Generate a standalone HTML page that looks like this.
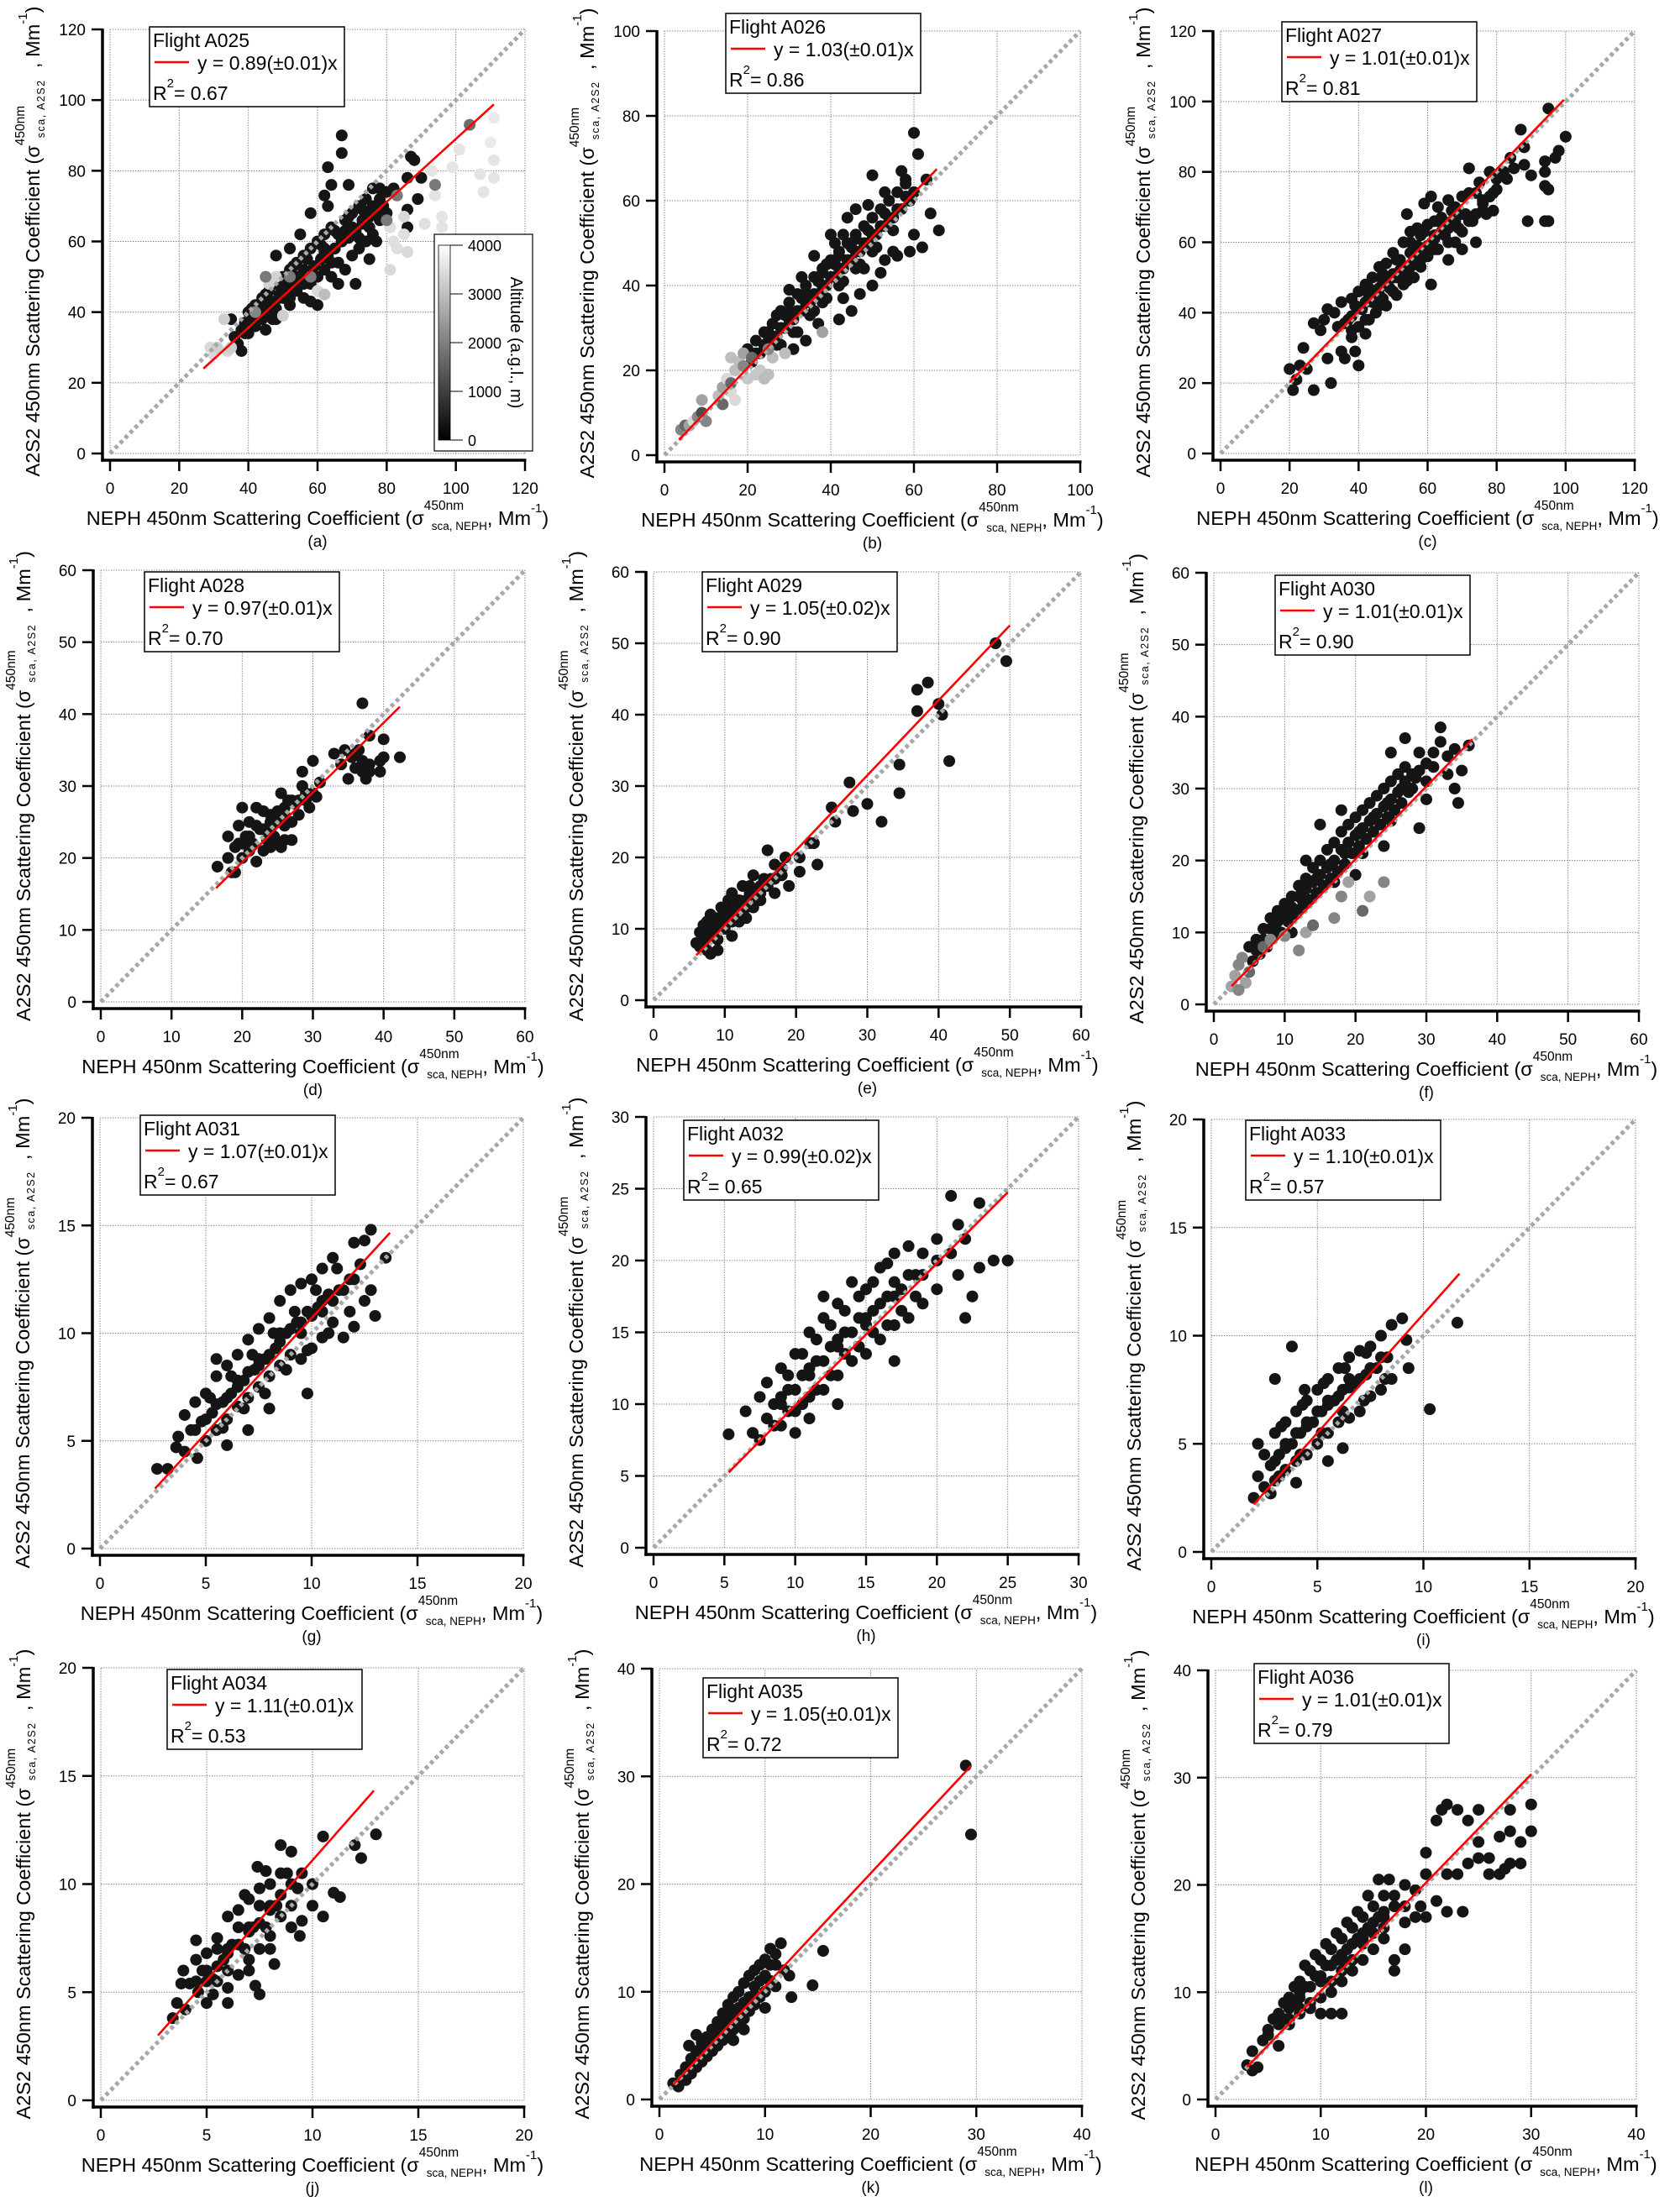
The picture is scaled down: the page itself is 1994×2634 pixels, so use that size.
<!DOCTYPE html>
<html><head><meta charset="utf-8">
<style>
html,body{margin:0;padding:0;background:#fff;}
svg{display:block;font-family:"Liberation Sans",Arial,sans-serif;}
</style></head>
<body>
<svg id="fig" width="1994" height="2634" viewBox="0 0 1994 2634" xmlns="http://www.w3.org/2000/svg"></svg>
<script>
// ---------- DATA ----------
const aPts=[[35,38],[36,33],[37,31],[38,35],[39,37],[40,40],[40,34],[41,38],[42,42],[42,36],[43,39],[44,44],[44,38],[45,41],[46,46],[46,40],[47,43],[48,48],[48,38],[49,45],[50,50],[50,44],[51,47],[52,52],[52,42],[53,48],[54,54],[54,46],[55,50],[56,56],[56,44],[57,51],[58,58],[58,48],[59,53],[60,60],[60,50],[61,55],[62,62],[62,52],[63,57],[64,64],[64,50],[65,58],[66,62],[66,54],[67,60],[68,66],[68,52],[69,62],[70,68],[70,56],[71,63],[72,70],[72,58],[73,66],[74,72],[74,60],[75,64],[76,70],[76,62],[78,72],[78,66],[80,74],[80,68],[67,90],[67,85],[63,81],[64,76],[69,76],[62,73],[63,70],[58,68],[55,62],[52,58],[48,56],[87,84],[88,83],[86,78],[90,78],[89,72],[82,75],[86,69],[86,64],[77,60],[75,55],[71,48],[66,48],[58,43],[60,42],[52,44],[47,38],[45,35],[38,29],[78,75],[76,75],[44,41],[50,47],[56,52],[62,58],[68,63],[74,68]];
const aCore=[[39,34],[41,36],[43,38],[45,40],[47,42],[49,44],[51,46],[53,48],[55,49],[57,51],[59,53],[61,55],[63,56],[65,58],[67,60],[69,61],[71,63],[73,65],[75,67],[77,68],[79,70],[41,41],[45,45],[49,49],[53,53],[57,55],[61,59],[65,63],[69,67],[73,69],[40,37],[48,41],[56,48],[64,54],[72,61],[46,43],[54,50],[62,57],[70,64],[78,69]];
const aGray=[[29,30,3500],[30,28,3500],[31,30,3300],[34,29,3400],[35,30,3300],[33,38,3300],[46,48,3400],[48,50,3400],[50,39,3300],[60,46,3500],[62,45,3000],[81,64,3600],[82,60,3600],[83,58,3600],[85,62,3600],[91,65,3600],[93,80,3700],[94,73,3700],[96,67,3700],[96,64,3700],[99,81,3700],[101,86,3700],[104,93,1600],[111,95,3800],[110,88,3800],[111,83,3700],[111,78,3700],[107,79,3700],[108,74,3700],[81,52,3500],[86,57,3500],[85,67,3500],[94,76,1800],[83,73,1800],[80,66,1800],[52,50,1800],[42,40,2000],[45,50,1800],[58,50,1800]];
const bPts=[[20,25],[21,22],[22,27],[23,24],[24,29],[25,27],[26,31],[27,28],[28,34],[29,30],[30,36],[31,32],[32,38],[33,34],[34,40],[35,36],[36,42],[37,38],[38,44],[39,40],[40,46],[41,42],[42,48],[43,44],[44,50],[45,46],[46,52],[47,48],[48,54],[49,50],[50,56],[51,52],[52,58],[53,54],[54,60],[55,56],[56,62],[57,58],[58,64],[59,60],[60,76],[61,71],[63,65],[64,57],[66,53],[60,52],[62,49],[59,48],[56,47],[53,46],[52,43],[50,40],[47,38],[45,34],[42,32],[38,40],[35,33],[32,29],[28,26],[27,33],[30,39],[33,42],[36,47],[40,52],[44,56],[46,58],[49,59],[50,66],[53,62],[57,67],[58,65],[55,48],[48,44],[43,37],[37,31],[34,27],[31,25],[36,34],[41,50],[44,46],[39,45],[43,52]];
const bCore=[[22,24],[24,26],[26,28],[28,30],[30,32],[32,34],[34,36],[36,38],[38,40],[40,42],[42,44],[44,46],[46,48],[48,50],[50,52],[52,54],[54,56],[56,58],[25,29],[29,33],[33,37],[37,41],[41,45],[45,49],[49,53],[53,57],[27,26],[31,29],[35,33],[39,37],[43,41],[47,45],[51,49],[55,53],[38,36],[42,40],[46,44],[50,48],[30,34],[34,38],[38,43],[42,47],[46,51],[58,61],[60,62]];
const bGray=[[4,6,2000],[5,7,1500],[6,7,2500],[7,8,3500],[8,9,2000],[9,10,1000],[9,13,2500],[10,8,2000],[13,14,3000],[14,12,1500],[14,16,2500],[15,18,3500],[16,15,3500],[17,20,3000],[17,13,3500],[18,22,3000],[19,24,2500],[20,18,3200],[22,19,3200],[23,20,3200],[24,18,3000],[25,19,3000],[19,21,2000],[21,23,1500],[26,23,3000],[29,24,3000],[38,29,2500],[25,25,2000],[16,23,3000],[16,17,1500]];
const cPts=[[20,24],[21,18],[22,21],[23,25],[24,30],[25,24],[27,18],[27,37],[29,35],[30,38],[31,27],[31,41],[32,20],[33,40],[34,36],[35,29],[35,43],[36,27],[37,38],[38,44],[38,33],[39,29],[40,25],[40,46],[40,36],[41,41],[42,48],[42,34],[43,38],[44,50],[44,43],[45,40],[46,53],[46,45],[47,49],[48,54],[48,42],[49,47],[50,57],[50,51],[51,45],[52,55],[53,60],[53,48],[54,68],[54,52],[55,63],[55,57],[56,50],[57,59],[58,62],[58,53],[59,71],[60,65],[60,56],[61,73],[61,48],[62,62],[63,70],[63,58],[64,67],[65,62],[66,72],[66,55],[67,66],[68,70],[68,60],[69,64],[70,73],[70,58],[71,68],[72,81],[72,74],[73,66],[74,60],[75,77],[76,69],[77,68],[78,80],[79,74],[79,69],[80,78],[82,80],[83,78],[85,81],[87,92],[88,87],[88,82],[89,66],[90,79],[94,83],[94,80],[94,76],[95,75],[95,98],[94,66],[95,66],[97,84],[98,86],[100,90],[84,84],[76,72],[74,74],[65,65],[57,64],[52,52],[45,46],[43,45],[47,44],[51,50],[55,53],[59,58],[62,66],[66,64]];
const cCore=[[36,37],[38,39],[40,41],[42,43],[44,45],[46,47],[48,49],[50,50],[52,51],[54,53],[56,55],[58,57],[60,59],[62,61],[64,63],[66,65],[68,66],[70,68],[39,42],[43,47],[47,51],[51,55],[55,60],[59,63],[63,66],[67,69],[38,35],[42,38],[46,42],[50,46],[54,49],[58,55],[62,58],[66,60],[70,63],[72,66],[74,68],[76,71],[78,73],[80,75]];
const dPts=[[16.5,18.8],[18,23],[18,20],[18.5,18],[19,21.5],[19,18],[19.5,24.5],[20,27],[20,20],[20.5,23],[21,25],[21,21],[21.5,22],[22,27],[22,19.5],[22.5,24],[23,26.5],[23,21],[23.5,22.5],[24,26],[24,24],[24.5,23],[25,25],[25,22],[25.5,29],[25.5,21.5],[26,27],[26,24.5],[26.5,28],[27,25],[27,22.5],[27.5,27.5],[28,26],[28.5,32],[28.5,30],[29,28],[29.5,27],[30,33.5],[30,29],[30.5,28.5],[31,30.5],[33,34.5],[34,33],[34.5,35],[35,31],[35.5,34],[36,32.5],[36.5,35],[37,41.5],[37,33.5],[37.5,31],[38,33],[38,37],[38,32],[39.5,33.5],[39.5,32],[40,36.5],[40,34],[42.3,34]];
const dCore=[[21,23],[23,24],[24,25],[26,26],[27,28],[28,28],[29,29],[22,24.5],[25,26.5],[19.5,22],[20,22],[24,21.5],[26,22.5],[36,34.5],[37,32]];
const ePts=[[6,8],[6.5,9.5],[7,8],[7,10.5],[7.5,7],[7.5,11],[8,9],[8,12],[8.5,10],[9,11.5],[9,8.5],[9.5,13],[10,10],[10,12],[10.5,14],[11,11],[11,15],[11.5,12.5],[12,14],[12,11],[12.5,16],[13,13],[13.5,15],[14,17.5],[14,13],[15,16],[15,14],[16,21],[16.5,17],[17,19],[17,15],[18,18.5],[18.5,20],[19,16],[20.5,18],[20.5,20],[22.5,22],[23,19],[22,22],[25,27],[25.5,25],[27.5,30.5],[28,26.5],[30,27.5],[32,25],[34.5,33],[34.5,29],[37,43.5],[37,40.5],[38.5,44.5],[40,41.5],[40.5,40],[41.5,33.5],[48,50],[49.5,47.5],[9,7],[8,6.5],[11,9],[13,11.5]];
const eCore=[[7,9],[8,10.5],[9,10],[10,11],[11,12.5],[12,13],[13,14],[14,15],[15,15],[16,16],[17,17],[18,17.5],[6.5,7.5],[7.5,9.5],[8.5,11],[9.5,11.5],[10.5,12.5],[11.5,14],[12.5,13],[13.5,16],[14.5,14.5],[15.5,17]];
const fPts=[[5,8],[5.5,6],[6,9],[6.5,7],[7,10.5],[7.5,8],[8,12],[8.5,9.5],[9,13],[9.5,10],[10,14],[10.5,11.5],[11,15],[11.5,12.5],[12,16.5],[12.5,13.5],[13,17.5],[13.5,14.5],[14,19],[14.5,15.5],[15,20],[15.5,16.5],[16,21.5],[16.5,17.5],[17,22.5],[17.5,18.5],[18,24],[18.5,19.5],[19,25],[19.5,21],[20,26],[20.5,22],[21,27],[21.5,23],[22,28],[22.5,24],[23,29],[23.5,25],[24,30],[24.5,26],[25,31],[25.5,27],[26,32],[26.5,28],[27,33],[27.5,29.5],[28,30],[29,35],[30,31],[30,28.5],[31,33],[32,38.5],[32,36.5],[33,34.5],[33,32],[34,35.5],[34,30],[34.5,28],[35,32.5],[36,36],[29,24.5],[25,35],[27,37],[15,25],[18,27],[13,20],[20,18],[24,22],[11,10]];
const fCore=[[6,7.5],[7,9],[8,10.5],[9,11.5],[10,12.5],[11,13.5],[12,15],[13,16],[14,17],[15,18],[16,19],[17,20],[18,21.5],[19,22.5],[20,23.5],[21,24.5],[22,25.5],[23,26.5],[24,27.5],[25,28.5],[26,29.5],[27,31],[28,32],[29,32.5],[30,33.5],[31,35],[8.5,11],[10.5,13],[12.5,14.5],[14.5,17.5],[16.5,19.5],[18.5,21],[20.5,24],[22.5,26],[24.5,28],[26.5,30],[28.5,31.5],[13,14],[17,17],[21,21],[25,25.5]];
const fGray=[[2.5,2.5,2500],[3,4,2500],[3.5,5.5,2000],[4,6.5,2000],[4.5,3,2500],[3.5,2,2000],[5,4.5,1500],[7,8,1500],[8,9,2000],[10,9.5,2000],[12,7.5,2000],[13,10,2500],[14,11,1500],[17,12,2000],[18,15,2000],[19,17,2500],[22,15,2500],[24,17,2000],[21,13,1500]];
const gPts=[[2.7,3.7],[3.2,3.7],[3.6,4.7],[3.7,5.2],[4,6.2],[4,4.5],[4.3,5.5],[4.5,6.8],[4.6,4.2],[4.8,5.9],[5,7.2],[5,5],[5.3,6.3],[5.5,8],[5.5,5.5],[5.8,6.8],[6,8.5],[6,6],[6.2,7.2],[6.5,9],[6.5,6.6],[6.8,7.8],[7,9.7],[7,7],[7.3,8.3],[7.5,10.2],[7.5,7.5],[7.8,8.8],[8,10.7],[8,8],[8.3,9.3],[8.5,11.5],[8.5,8.5],[8.8,10],[9,12],[9,9],[9.3,10.5],[9.5,12.3],[9.5,8.8],[9.8,11],[10,12.5],[10,9.3],[10.3,11.2],[10.5,13],[10.5,9.8],[10.8,11.8],[11,13.5],[11,10.5],[11.3,12],[11.5,9.8],[11.8,12.5],[12,14.2],[12,10.3],[12.3,13.2],[12.5,11.5],[12.8,12],[12.8,14.8],[13,10.8],[13.5,13.5],[7,5.5],[9.8,7.2],[6,4.8],[8,6.5],[12.5,14.3],[5.5,8.8],[6.5,7.8],[7.5,8.8],[8.5,10],[9.5,10.5],[10.5,11.5]];
const gCore=[[4.5,5.5],[5,6],[5.5,6.7],[6,7],[6.5,7.5],[7,8.2],[7.5,8.5],[8,9],[8.5,9.6],[9,10.2],[9.5,10],[10,10.8],[10.5,11],[11,11.5],[11.5,12],[12,12.5],[5.2,7],[6.2,8],[7.2,9],[8.2,10],[9.2,11],[10.2,12],[11.2,13],[5.8,5.6],[6.8,6.5],[7.8,7.2],[8.8,8.3],[9.8,9.2],[10.8,10],[11.8,11]];
const hPts=[[5.3,7.9],[6.5,9.5],[7,8],[7.5,10.5],[7.5,7.5],[8,11.5],[8,9],[8.5,10],[9,12.5],[9,8.5],[9.5,11],[10,13.5],[10,9.5],[10.5,12],[11,15],[11,10.5],[11.5,13],[12,16],[12,11],[12.5,14],[13,17],[13,12],[13.5,15],[14,18.5],[14,13],[14.5,16],[15,18],[15,13.5],[15.5,16.5],[16,19.5],[16,14.5],[16.5,17.5],[17,20.5],[17,15.5],[17.5,18],[18,21],[18,16],[18.5,19],[19,20.5],[19,17],[20,21.5],[20,18],[21,20.5],[21,24.5],[21.5,22.5],[21.5,19],[22,21.5],[22.5,17.5],[23,19.5],[24,20],[25,20],[23,24],[22,16],[10,8],[11,9],[13,10],[17,13],[16.5,19.8],[12,17.5],[9,10.5],[11,12.5],[13,14.5],[15,15.5],[17,17.5]];
const hCore=[[9,10],[10,11],[11,12],[12,13],[13,14],[14,15],[15,16],[16,17],[17,18.5],[18,19],[19,19],[20,20],[9.5,12],[10.5,13.5],[11.5,14.5],[12.5,15.5],[13.5,16.5],[14.5,17.5],[15.5,18.5],[8.5,8.5],[9.5,9.5],[10.5,10],[11.5,11],[12.5,12],[13.5,13.5],[14.5,14],[15.5,15],[16.5,15.5],[17.5,16.5],[18.5,17.5]];
const iPts=[[2,2.5],[2.2,3.5],[2.5,4.5],[2.5,3],[2.8,4],[3,5.5],[3,3.3],[3.2,4.5],[3.5,6],[3.5,3.8],[3.8,5],[3.8,9.5],[4,6.5],[4,4.2],[4.2,5.5],[4.4,7.5],[4.5,7],[4.5,4.5],[4.8,6],[5,7.5],[5,5],[5.2,6.5],[5.5,8],[5.5,5.5],[5.8,7],[6,8.5],[6,6],[6.2,7.5],[6.5,9],[6.5,6.2],[6.8,7.8],[7,9.3],[7,6.5],[7.3,8.2],[7.5,9.5],[7.5,7.2],[7.8,8.5],[8,10],[8,7.5],[8.3,9],[8.5,10.5],[8.5,8],[9,10.8],[10.3,6.6],[11.6,10.6],[2.8,2.7],[4,3.2],[5.5,4.2],[6.2,4.8],[3,8],[2.2,5],[3.5,4.8],[4.5,5.8],[5.5,6.8],[6.5,7.6]];
const iCore=[[3,4.2],[3.5,5],[4,5.5],[4.5,6],[5,6.5],[5.5,7],[6,7.2],[6.5,8],[7,8],[7.5,8.5],[8,9],[3.3,5.8],[4.3,6.8],[5.3,7.8],[6.3,8.5],[7.3,9.2],[3.2,3.5],[4.2,4.5],[5.2,5.5],[6.2,6.5],[7.2,7],[8.2,8],[9.3,8.5],[9.2,9.8]];
const jPts=[[3.4,3.8],[3.6,4.5],[3.8,5.4],[4,4.2],[3.9,6],[4.2,5.4],[4.5,6.5],[4.5,7.4],[4.6,5],[4.8,6],[5,6.8],[5,4.5],[5.3,5.6],[5.5,7.5],[5.5,5.5],[5.8,6.5],[6,8.5],[6,6],[6.2,7.2],[6.5,8],[6.5,5.8],[6.8,7],[7,9.3],[7,6.5],[7.2,8],[7.4,10.8],[7.5,9],[7.5,7],[7.8,8],[8,10],[8,7.6],[8.3,9],[8.5,11.8],[8.5,8.5],[8.8,10.5],[9,11.5],[9,9],[9.3,9.8],[9.5,10.5],[10,10],[10,9],[10.5,12.2],[10.5,8.5],[11,9.6],[11.3,9.4],[12,11.8],[12.3,11.2],[13,12.3],[5.3,4.9],[7.3,5.3],[9.4,7.6],[8.2,6.3],[6,4.5],[7.5,4.9],[9.5,8.3],[5,6],[6,7],[7,8],[8,9]];
const jCore=[[5,5.5],[5.5,6.2],[6,6.8],[6.5,7.2],[7,7.8],[7.5,8.2],[8,8.8],[8.5,9.5],[9,10],[4.5,5.5],[5.5,7],[6.5,8.8],[7.5,9.8],[8.5,10.5],[6,5.2],[7,6],[8,7],[9,8],[6.8,9.5],[7.8,10.6]];
const kPts=[[1.3,1.5],[2,2.3],[2.5,3],[2.5,1.8],[3,3.8],[3,2.4],[3.5,4.5],[3.5,3],[4,5.3],[4,3.5],[4.5,5.8],[4.5,4],[5,6.5],[5,4.5],[5.5,7.2],[5.5,5],[6,8],[6,5.5],[6.5,8.8],[6.5,6],[7,9.5],[7,6.5],[7.5,10],[7.5,7],[8,10.8],[8,7.5],[8.5,11.5],[8.5,8.2],[9,12],[9,8.8],[9.5,12.5],[9.5,9.5],[10,13],[10,10],[10.5,14],[10.5,11],[11,13.5],[11,12.5],[12.5,9.5],[12.3,11.5],[15.5,13.8],[14.5,10.6],[29,31],[29.5,24.6],[3.5,6],[2.8,5],[1.8,1.2],[5,5.5],[6,6.8],[7,8],[8,9],[9,10.5]];
const kCore=[[4,4.5],[5,5.8],[6,7],[7,7.8],[8,8.5],[9,9.7],[10,11.5],[3,3.2],[4.5,5.2],[5.5,6.3],[6.5,7.5],[7.5,8.5],[8.5,9.5],[9.5,11],[10.5,12.5],[11,10.5],[10,8.5],[8,6.5],[7,5.5],[11.5,14.5],[11.8,12]];
const lPts=[[3,3.2],[3.5,2.7],[3.5,4.5],[4,3],[4.5,5.5],[5,6],[5.5,7.5],[6,8],[6,5],[6.5,9],[7,9.5],[7,7],[7.5,10.5],[8,11],[8,8],[8.5,12.5],[9,12],[9,9],[9.5,13.5],[10,13],[10,8],[10.5,14.5],[11,14],[11,10],[11.5,15.5],[12,15],[12,11],[12.5,16.5],[13,16],[13,12],[13.5,17.5],[14,17],[14,13],[14.5,19],[15,18],[15,14],[15.5,20.5],[16,19],[16,15],[16.5,20.5],[17,18],[17,13],[17,12],[18,20],[18,16.5],[19,19.5],[19,17],[19.5,18],[20,23],[20,21],[20,17],[21,26],[21,18.5],[21.5,27],[22,27.5],[22,17.5],[23,27],[23,21],[23.5,17.5],[24,26],[24,22],[25,27],[25,22.5],[25,24],[26,21],[26,22.5],[27,24.5],[27,21],[28,27],[28,22],[28,25],[29,24],[29,22],[30,27.5],[30,25],[27.5,21.5],[22,21],[18,14],[12,8],[11,8],[8,10],[10,11],[12,13],[14,15],[16,17]];
const lCore=[[5,6.5],[6,7],[7,8.5],[8,9.5],[9,10.5],[10,11.5],[11,12.5],[12,13.5],[13,14.5],[14,15.5],[15,16.5],[16,17.5],[17,19],[18,18],[6.5,7.5],[7.5,9],[8.5,10.5],[9.5,11.5],[10.5,12.5],[11.5,13],[12.5,14],[13.5,15],[14.5,16],[15.5,17],[9,8.5],[10,9.5],[11,11],[12,12],[13,13],[14,14.5],[15,15.5],[16,16],[8,8.5],[7,7.5]];
const flights=["A025","A026","A027","A028","A029","A030","A031","A032","A033","A034","A035","A036"];
const slopes=[0.89,1.03,1.01,0.97,1.05,1.01,1.07,0.99,1.10,1.11,1.05,1.01];
const slopeErr=["0.01","0.01","0.01","0.01","0.02","0.01","0.01","0.02","0.01","0.01","0.01","0.01"];
const r2s=["0.67","0.86","0.81","0.70","0.90","0.90","0.67","0.65","0.57","0.53","0.72","0.79"];
const fitStart=[27,3.5,20,16.3,6,2.5,2.6,5.3,2,2.7,1.3,3];
const fitEnd=[111,65.5,99.5,42.3,50,36.5,13.7,25,11.7,12.9,29.5,30];
const axisMax=[120,100,120,60,60,60,20,30,20,20,40,40];
const tickStep=[20,20,20,10,10,10,5,5,5,5,10,10];
const panelLetters=["a","b","c","d","e","f","g","h","i","j","k","l"];
const pointSets=[aPts.concat(aCore),bPts.concat(bCore),cPts.concat(cCore),dPts.concat(dCore),ePts.concat(eCore),fPts.concat(fCore),gPts.concat(gCore),hPts.concat(hCore),iPts.concat(iCore),jPts.concat(jCore),kPts.concat(kCore),lPts.concat(lCore)];
const graySets=[aGray,bGray,[],[],[],fGray,[],[],[],[],[],[]];
const cbTicks=[0,1000,2000,3000,4000];

// ---------- LAYOUT (pixels) ----------
const layout=[
 {x0:131,x1:625,yb:540,yt:35,lx:178,ly:32},
 {x0:791,x1:1286,yb:542,yt:37,lx:864,ly:16},
 {x0:1453,x1:1946,yb:540,yt:37,lx:1526,ly:26},
 {x0:120,x1:625,yb:1193,yt:679,lx:172,ly:681},
 {x0:778,x1:1287,yb:1191,yt:681,lx:836,ly:681},
 {x0:1445,x1:1951,yb:1196,yt:682,lx:1518,ly:685},
 {x0:119,x1:623,yb:1844,yt:1331,lx:167,ly:1328},
 {x0:778,x1:1284,yb:1843,yt:1330,lx:814,ly:1334},
 {x0:1442,x1:1947,yb:1848,yt:1333,lx:1483,ly:1334},
 {x0:120,x1:624,yb:2501,yt:1986,lx:199,ly:1988},
 {x0:785,x1:1288,yb:2500,yt:1987,lx:837,ly:1998},
 {x0:1447,x1:1948,yb:2500,yt:1989,lx:1493,ly:1981}
];

const NS="http://www.w3.org/2000/svg";
const svg=document.getElementById('fig');
function el(tag,attrs,parent){const e=document.createElementNS(NS,tag);for(const k in attrs)e.setAttribute(k,attrs[k]);(parent||svg).appendChild(e);return e;}
function grayOf(alt){const v=Math.round(20+alt/4000*225);return `rgb(${v},${v},${v})`;}

function title(parent,parts,horizontal,cx,cy,name){
  const g=el('g',{},parent);
  
  
  let cur=0,maxEnd=0;
  parts.forEach(p=>{
    const t=el('text',{x:cur+(p.dx||0),y:p.dy||0,'font-size':p.size,fill:'#000'},g);
    if(p.ls) t.setAttribute('letter-spacing',p.ls);
    t.textContent=p.t;
    const w=t.getComputedTextLength()+(p.ls?p.ls*p.t.length:0);
    const end=cur+(p.dx||0)+w;
    maxEnd=Math.max(maxEnd,end);
    if(p.adv!==false) cur=end;
  });
  const total=Math.max(cur,maxEnd);
  if(horizontal) g.setAttribute('transform',`translate(${cx-total/2},${cy})`);
  else g.setAttribute('transform',`translate(${cx},${cy+total/2}) rotate(-90)`);
}

layout.forEach((L,i)=>{
  const max=axisMax[i],step=tickStep[i];
  const sx=v=>L.x0+(v/max)*(L.x1-L.x0);
  const sy=v=>L.yb-(v/max)*(L.yb-L.yt);
  const P=el('g',{});
  
  
  const ax=L.x0-9, ay=L.yb+8;
  const grid=el('g',{stroke:'#8a8a8a','stroke-width':1,'stroke-dasharray':'1.5,1.5'},P);
  
  
  for(let v=0;v<=max+1e-9;v+=step){
    el('line',{x1:sx(v),x2:sx(v),y1:sy(0),y2:sy(max)},grid);
    el('line',{x1:sx(0),x2:sx(max),y1:sy(v),y2:sy(v)},grid);
  }
  const pts=el('g',{},P);
  
  
  pointSets[i].forEach(p=>{
    const c=el('circle',{cx:sx(p[0]),cy:sy(p[1]),r:7,fill:'#151515'},pts);
    
    
  });
  graySets[i].forEach(p=>{
    const c=el('circle',{cx:sx(p[0]),cy:sy(p[1]),r:7,fill:grayOf(p[2])},pts);
    
    
  });
  const one=el('line',{x1:sx(0),y1:sy(0),x2:sx(max),y2:sy(max),stroke:'#a8a8a8','stroke-width':5,'stroke-dasharray':'4.5,4'},P);
  
  
  const fit=el('line',{x1:sx(fitStart[i]),y1:sy(fitStart[i]*slopes[i]),x2:sx(fitEnd[i]),y2:sy(fitEnd[i]*slopes[i]),stroke:'#ff0000','stroke-width':2.6},P);
  
  
  const axes=el('g',{stroke:'#000','stroke-width':3.5},P);
  
  
  el('line',{x1:ax,x2:ax,y1:sy(max)-1,y2:ay+1.75},axes);
  el('line',{x1:ax-1.75,x2:sx(max)+1.5,y1:ay,y2:ay},axes);
  const tl=el('g',{'font-size':19,fill:'#000'},P);
  
  
  for(let v=0;v<=max+1e-9;v+=step){
    el('line',{x1:ax-13,x2:ax,y1:sy(v),y2:sy(v),'stroke-width':2.5},axes);
    el('line',{x1:sx(v),x2:sx(v),y1:ay,y2:ay+13,'stroke-width':2.5},axes);
    const ty=el('text',{x:ax-20,y:sy(v)+7,'text-anchor':'end'},tl);ty.textContent=v;
    const tx=el('text',{x:sx(v),y:ay+40,'text-anchor':'middle'},tl);tx.textContent=v;
  }
  title(P,[{t:'NEPH 450nm Scattering Coefficient (σ',size:23.5},{t:'450nm',size:15.5,dy:-18,adv:false},{t:'sca, NEPH',size:13.5,dy:6,dx:9},{t:', Mm',size:23.5},{t:'-1',size:15,dy:-15},{t:')',size:23.5}],true,(L.x0+L.x1)/2,L.yb+85,'x-axis-title');
  title(P,[{t:'A2S2 450nm Scattering Coefficient (σ',size:23.5},{t:'450nm',size:15.5,dy:-18,adv:false},{t:'sca, A2S2',size:12.5,dy:6,dx:9,ls:1.5},{t:', Mm',size:23.5},{t:'-1',size:15,dy:-15},{t:')',size:23.5}],false,L.x0-84,(L.yb+L.yt)/2,'y-axis-title');
  const pl=el('text',{x:(L.x0+L.x1)/2,y:L.yb+111,'text-anchor':'middle','font-size':19},P);
  pl.textContent='('+panelLetters[i]+')';
  
  
  const lg=el('g',{},P);
  
  
  el('rect',{x:L.lx,y:L.ly,width:232,height:95,fill:'#fff',stroke:'#000','stroke-width':1.5},lg);
  const f=el('text',{x:L.lx+4,y:L.ly+24,'font-size':23},lg);f.textContent='Flight '+flights[i];
  el('line',{x1:L.lx+6,x2:L.lx+47,y1:L.ly+42,y2:L.ly+42,stroke:'#f00','stroke-width':2.6},lg);
  const eq=el('text',{x:L.lx+57,y:L.ly+51,'font-size':23},lg);eq.textContent='y = '+slopes[i].toFixed(2)+'(±'+slopeErr[i]+')x';
  const r=el('text',{x:L.lx+4,y:L.ly+87,'font-size':23},lg);
  r.innerHTML='R<tspan font-size="15" dy="-15">2</tspan><tspan dy="15">= '+r2s[i]+'</tspan>';
});

(function(){
  const g=el('g',{});
  
  
  const defs=el('defs',{},g);
  const lgd=el('linearGradient',{id:'cbg',x1:0,y1:1,x2:0,y2:0},defs);
  el('stop',{offset:0,'stop-color':'#000'},lgd);
  el('stop',{offset:1,'stop-color':'#fff'},lgd);
  el('rect',{x:517,y:279,width:117,height:258,fill:'#fff',stroke:'#000','stroke-width':1.2},g);
  const top=292,bot=524;
  el('rect',{x:522,y:top,width:14,height:bot-top,fill:'url(#cbg)',stroke:'#000','stroke-width':0.8},g);
  const cy=v=>bot-(v/4000)*(bot-top);
  cbTicks.forEach(v=>{
    el('line',{x1:536,x2:551,y1:cy(v),y2:cy(v),stroke:'#000','stroke-width':1},g);
    const t=el('text',{x:557,y:cy(v)+7,'font-size':18},g);t.textContent=v;
  });
  const at=el('text',{x:0,y:0,'font-size':20,'text-anchor':'middle',transform:'translate(608,408) rotate(90)'},g);
  at.textContent='Altitude (a.g.l., m)';
})();
</script>
</body></html>
